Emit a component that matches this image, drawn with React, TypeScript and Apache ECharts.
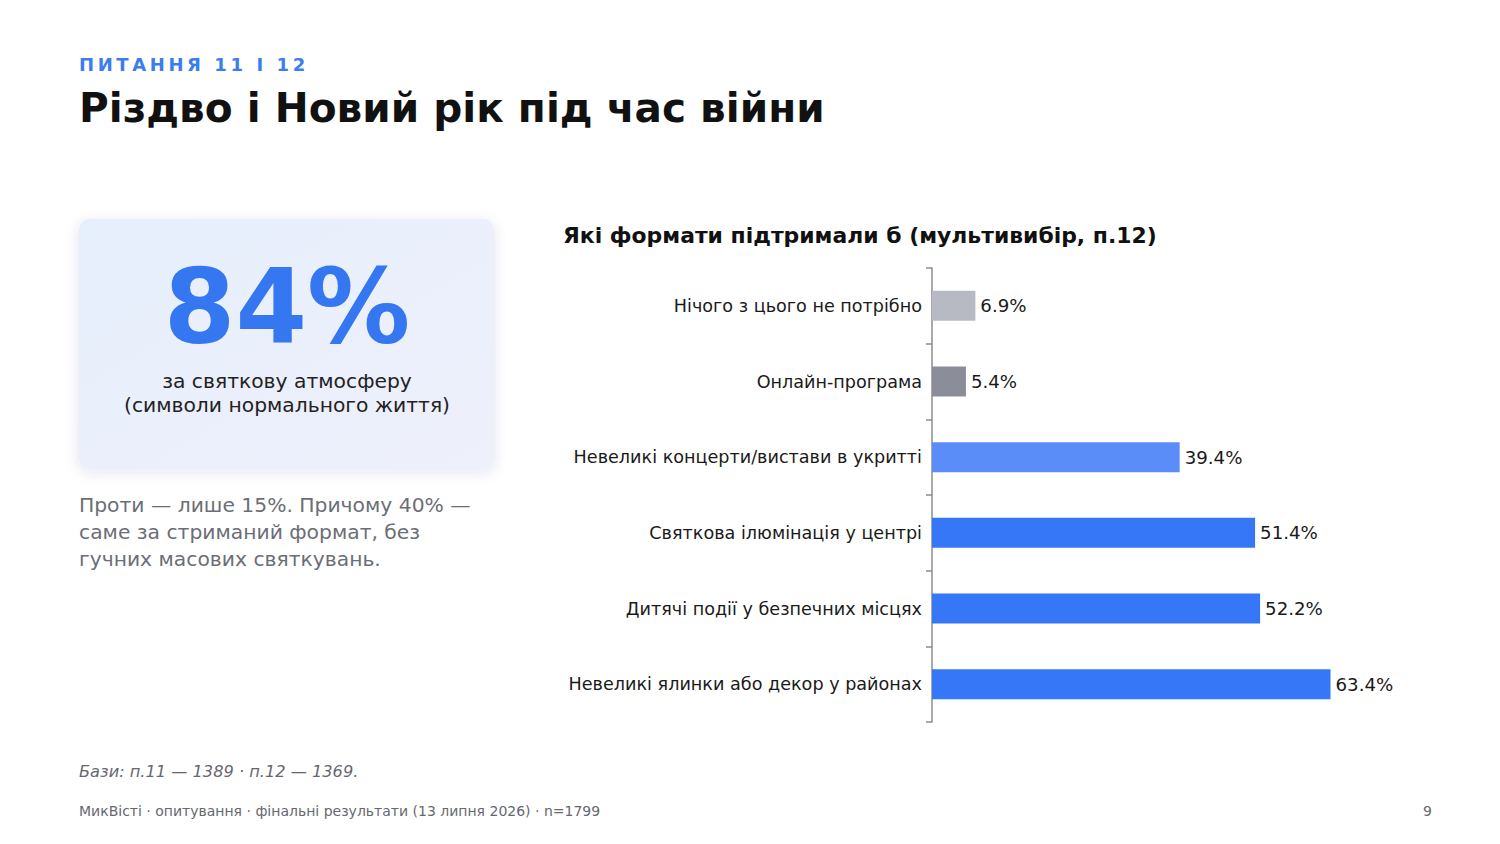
import React, { useEffect, useRef } from "react";
import * as echarts from "echarts";

const categories = [
  "Нічого з цього не потрібно",
  "Онлайн-програма",
  "Невеликі концерти/вистави в укритті",
  "Святкова ілюмінація у центрі",
  "Дитячі події у безпечних місцях",
  "Невеликі ялинки або декор у районах",
];
const values = [6.9, 5.4, 39.4, 51.4, 52.2, 63.4];
const barColors = ["#b7bac3", "#8b8e99", "#5b8df8", "#3577f6", "#3577f6", "#3577f6"];

const kicker = "ПИТАННЯ 11 І 12";
const title = "Різдво і Новий рік під час війни";
const chartTitle = "Які формати підтримали б (мультивибір, п.12)";
const bigStat = "84%";
const statCaption = ["за святкову атмосферу", "(символи нормального життя)"];
const paragraph = [
  "Проти — лише 15%. Причому 40% —",
  "саме за стриманий формат, без",
  "гучних масових святкувань.",
];
const basesNote = "Бази: п.11 — 1389 · п.12 — 1369.";
const footer = "МикВісті · опитування · фінальні результати (13 липня 2026) · n=1799";
const pageNum = "9";

const FONT = "DejaVu Sans";

export default function App() {
  const ref = useRef<HTMLDivElement>(null);
  useEffect(() => {
    if (!ref.current) return;
    const chart = echarts.init(ref.current, null, { renderer: "svg" });
    chart.setOption({
      animation: false,
      backgroundColor: "#ffffff",
      textStyle: { fontFamily: FONT },
      grid: { left: 932, right: 128, top: 268, bottom: 122, containLabel: false },
      xAxis: {
        type: "value",
        min: 0,
        max: 70,
        show: false,
      },
      yAxis: {
        type: "category",
        data: categories,
        inverse: true,
        axisLine: { show: true, lineStyle: { color: "#8c8c8c", width: 1.5 } },
        axisTick: { show: true, length: 6, lineStyle: { color: "#8c8c8c", width: 1.5 } },
        axisLabel: { color: "#1a1a1a", fontSize: 17.6, fontFamily: FONT, margin: 10 },
      },
      series: [
        {
          type: "bar",
          data: values.map((v, i) => ({ value: v, itemStyle: { color: barColors[i] } })),
          barWidth: 30,
          label: {
            show: true,
            position: "right",
            distance: 5,
            formatter: (p: any) => `${p.value.toFixed(1)}%`,
            color: "#1a1a1a",
            fontSize: 18.2,
            fontFamily: FONT,
          },
        },
      ],
      graphic: [
        {
          type: "text",
          left: 79,
          top: 55,
          style: {
            text: kicker.split("").join("\u2009"),
            fill: "#3b7cf0",
            font: `bold 18px '${FONT}'`,
          },
        },
        {
          type: "text",
          x: 79,
          y: 108,
          style: { text: title, fill: "#111111", font: `bold 40.6px '${FONT}'`, verticalAlign: "middle" },
        },
        {
          type: "text",
          x: 563,
          y: 235,
          style: { text: chartTitle, fill: "#111111", font: `bold 21.9px '${FONT}'`, verticalAlign: "middle" },
        },
        {
          type: "rect",
          shape: { x: 79, y: 219, width: 415, height: 250, r: 10 },
          style: {
            fill: new echarts.graphic.LinearGradient(0, 0, 1, 1, [
              { offset: 0, color: "#e6effc" },
              { offset: 1, color: "#eef0fb" },
            ]),
            shadowBlur: 14,
            shadowColor: "rgba(40,60,120,0.12)",
            shadowOffsetY: 3,
          },
        },
        {
          type: "text",
          x: 287,
          y: 307,
          style: {
            text: bigStat,
            fill: "#3577f0",
            font: `bold 103px '${FONT}'`,
            align: "center",
            verticalAlign: "middle",
          },
        },
        ...statCaption.map((t, i) => ({
          type: "text",
          x: 287,
          y: 381 + i * 24,
          style: {
            text: t,
            fill: "#222222",
            font: `20.3px '${FONT}'`,
            align: "center",
            verticalAlign: "middle",
          },
        })),
        ...paragraph.map((t, i) => ({
          type: "text",
          x: 79,
          y: 505 + i * 27,
          style: {
            text: t,
            fill: "#6b6e76",
            font: `20.3px '${FONT}'`,
            verticalAlign: "middle",
          },
        })),
        {
          type: "text",
          x: 79,
          y: 771,
          style: {
            text: basesNote,
            fill: "#666870",
            font: `italic 16.2px '${FONT}'`,
            verticalAlign: "middle",
          },
        },
        {
          type: "text",
          x: 79,
          y: 811,
          style: {
            text: footer,
            fill: "#666870",
            font: `14px '${FONT}'`,
            verticalAlign: "middle",
          },
        },
        {
          type: "text",
          x: 1432,
          y: 811,
          style: {
            text: pageNum,
            fill: "#666870",
            font: `14px '${FONT}'`,
            align: "right",
            verticalAlign: "middle",
          },
        },
      ],
    });
    return () => chart.dispose();
  }, []);
  return (
    <div
      ref={ref}
      style={{ position: "fixed", left: 0, top: 0, width: 1500, height: 844 }}
    />
  );
}
